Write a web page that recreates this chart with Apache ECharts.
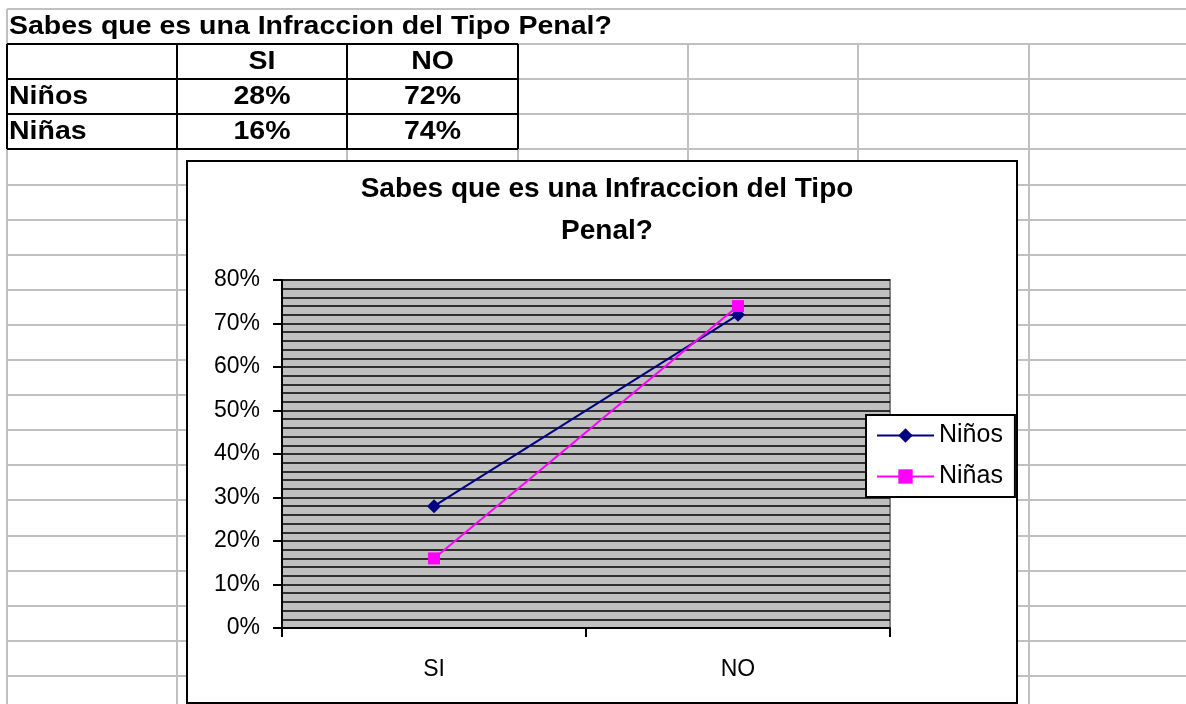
<!DOCTYPE html>
<html>
<head>
<meta charset="utf-8">
<title>Sabes que es una Infraccion del Tipo Penal?</title>
<script src="https://cdn.jsdelivr.net/npm/echarts@6/dist/echarts.min.js"></script>
<style>
  html, body { margin: 0; padding: 0; background: #fff; }
  #main { width: 1186px; height: 704px; }
</style>
</head>
<body>
<div id="main"></div>
<script>
// datos de la hoja
const titulo = "Sabes que es una Infraccion del Tipo Penal?"
const tituloGrafico = "Sabes que es una Infraccion del Tipo\nPenal?"
const categorias = ["SI", "NO"]
const nombres = ["Niños", "Niñas"]
const ninos = [0.28, 0.72]
const ninas = [0.16, 0.74]
const yMin = 0
const yMax = 0.8
const yPaso = 0.1

const fuente = "'Liberation Sans', Arial, sans-serif"
const pct = v => Math.round(v * 100) + "%"

// cuadricula de excel
const colX = [7, 177, 347, 518, 688, 858, 1029]
const rowY = []
for (let k = 0; k < 20; k++) rowY.push(Math.round(9 + 35.1 * k))

let graficos = []
rowY.forEach(y => {
  graficos.push({ type: "line", z: -3, shape: { x1: 7, y1: y, x2: 1186, y2: y }, style: { stroke: "#C0C0C0", lineWidth: 2 } })
})
colX.forEach((x, i) => {
  graficos.push({ type: "line", z: -3, shape: { x1: x, y1: i == 0 ? 9 : 44, x2: x, y2: 704 }, style: { stroke: "#C0C0C0", lineWidth: 2 } })
})
// bordes de la tabla
const tablaX = colX.slice(0, 4)
const tablaY = rowY.slice(1, 5)
tablaY.forEach(y => {
  graficos.push({ type: "line", z: -3, shape: { x1: tablaX[0], y1: y, x2: tablaX[3], y2: y }, style: { stroke: "#000", lineWidth: 2 } })
})
tablaX.forEach(x => {
  graficos.push({ type: "line", z: -3, shape: { x1: x, y1: tablaY[0], x2: x, y2: tablaY[3] }, style: { stroke: "#000", lineWidth: 2 } })
})
// textos de la tabla (excel los dibuja mas anchos)
const celda = (txt, x, y, align) => ({
  type: "text", z: -3, x: x, y: y, scaleX: 1.14,
  style: { text: txt, font: "bold 25px " + fuente, fill: "#000", textAlign: align, textVerticalAlign: "middle" },
})
graficos.push(celda(titulo, 9, (rowY[0] + rowY[1]) / 2 + 1, "left"))
categorias.forEach((c, j) => {
  graficos.push(celda(c, (colX[j + 1] + colX[j + 2]) / 2, (rowY[1] + rowY[2]) / 2 + 1, "center"))
})
;[ninos, ninas].forEach((serie, i) => {
  const yc = (rowY[i + 2] + rowY[i + 3]) / 2 + 1
  graficos.push(celda(nombres[i], 9, yc, "left"))
  serie.forEach((v, j) => {
    graficos.push(celda(pct(v), (colX[j + 1] + colX[j + 2]) / 2, yc, "center"))
  })
})
// fondo del grafico
graficos.push({ type: "rect", z: -2, shape: { x: 187, y: 161, width: 830, height: 542 }, style: { fill: "#fff", stroke: "#000", lineWidth: 2 } })

const chart = echarts.init(document.getElementById("main"))
const option = {
  animation: false,
  title: {
    text: tituloGrafico,
    left: 607,
    top: 168,
    padding: 0,
    textAlign: "center",
    textStyle: { fontFamily: fuente, fontSize: 28, fontWeight: "bold", color: "#000", lineHeight: 42 },
  },
  graphic: graficos,
  legend: {
    orient: "vertical",
    left: 866,
    top: 415,
    padding: [8, 12, 8, 10],
    itemGap: 16,
    itemWidth: 57,
    itemHeight: 18,
    backgroundColor: "#fff",
    borderColor: "#000",
    borderWidth: 2,
    borderRadius: 0,
    textStyle: { fontFamily: fuente, fontSize: 25, color: "#000" },
    data: nombres,
  },
  grid: {
    left: 282,
    top: 280,
    width: 608,
    height: 348,
    show: true,
    backgroundColor: "#C0C0C0",
    borderColor: "#808080",
    borderWidth: 2,
  },
  xAxis: {
    type: "category",
    data: categorias,
    boundaryGap: true,
    axisLine: { lineStyle: { color: "#000", width: 2 } },
    axisTick: { show: true, length: 9, lineStyle: { color: "#000", width: 2 } },
    axisLabel: { margin: 30, fontFamily: fuente, fontSize: 23, color: "#000" },
    splitLine: { show: false },
  },
  yAxis: {
    type: "value",
    min: yMin,
    max: yMax,
    interval: yPaso,
    axisLine: { show: true, lineStyle: { color: "#000", width: 2 } },
    axisTick: { show: true, length: 9, lineStyle: { color: "#000", width: 2 } },
    axisLabel: { margin: 22, fontFamily: fuente, fontSize: 23, color: "#000", formatter: pct },
    splitLine: { show: true, lineStyle: { color: "#000", width: 1.5 } },
    minorTick: { show: false, splitNumber: 5 },
    minorSplitLine: { show: true, lineStyle: { color: "#000", width: 1.5 } },
  },
  series: [
    {
      name: nombres[0],
      type: "line",
      data: ninos,
      color: "#000080",
      symbol: "diamond",
      symbolSize: 14,
      showAllSymbol: true,
      lineStyle: { color: "#000080", width: 2 },
      itemStyle: { color: "#000080" },
    },
    {
      name: nombres[1],
      type: "line",
      data: ninas,
      color: "#FF00FF",
      symbol: "rect",
      symbolSize: 12,
      showAllSymbol: true,
      lineStyle: { color: "#FF00FF", width: 2 },
      itemStyle: { color: "#FF00FF" },
    },
  ],
}
chart.setOption(option)
</script>
</body>
</html>
